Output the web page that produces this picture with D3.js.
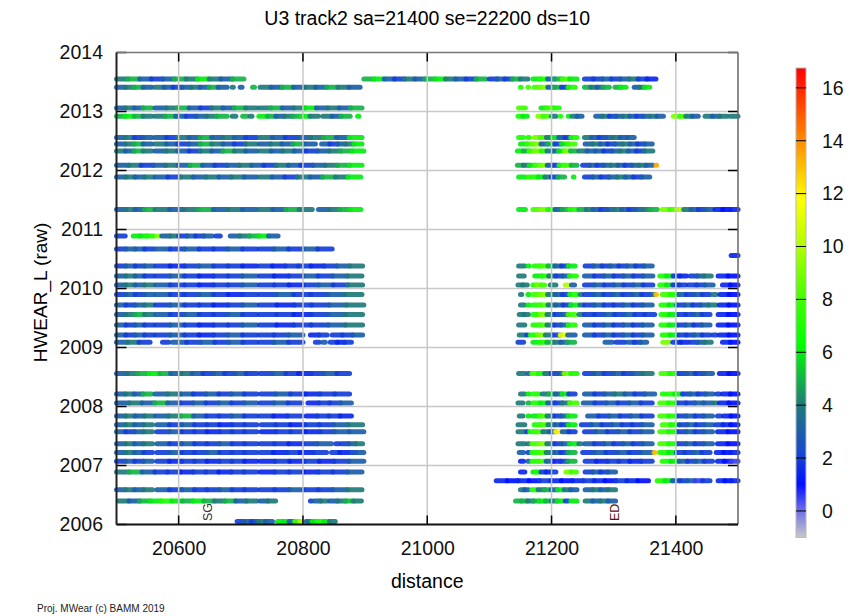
<!DOCTYPE html>
<html>
<head>
<meta charset="utf-8">
<script src="https://cdn.jsdelivr.net/npm/d3@7"></script>
<style>
  body { margin: 0; background: #fff; }
  svg { font-family: "Liberation Sans", Arial, sans-serif; }
</style>
</head>
<body>
<div id="chart"></div>
<script>
// chart values
var title = "U3 track2 sa=21400 se=22200 ds=10"
var xTicks = [20600, 20800, 21000, 21200, 21400]
var yTicks = [2006, 2007, 2008, 2009, 2010, 2011, 2012, 2013, 2014]
var colorTicks = [0, 2, 4, 6, 8, 10, 12, 14, 16]
var markers = [{ label: "SG", d: 20646 }, { label: "ED", d: 21301 }]

// colour map: value stops and colours
var cStops = [-1, 0, 1, 2.2, 4, 6.3, 8, 10, 11.8, 14, 16.75]
var cColors = ["#c8c8c8", "#7070e8", "#0010ff", "#1848d0", "#1f7a7a", "#00ff00", "#40ff00", "#b0ff00", "#ffff00", "#ff8c00", "#ff0000"]

// rows of measurements: [level, [[from, to, [values along the run]], ...]]
var rows = [
    [2013.55, [[20500, 20705, [4, 5, 3, 2, 3, 5, 4, 6, 4, 3, 5]], [20898, 21095, [5, 6, 3, 2, 4, 3, 5, 6, 4, 3, 2, 5]], [21100, 21162, [2, 3, 2, 5, 4]], [21170, 21241, [6, 7, 3, 5, 8, 6]], [21253, 21368, [2, 2, 3, 2, 3, 4, 2, 1.5]]]],
    [2013.41, [[20500, 20557, [3, 4, 5, 3]], [20562, 20678, [4, 3, 2, 3, 4, 3, 5, 3]], [20686, 20688, [4]], [20699, 20702, [3]], [20719, 20722, [5]], [20731, 20892, [4, 3, 5, 3, 4, 3, 5, 4, 3]], [21150, 21151, [7]], [21162, 21163, [8]], [21172, 21238, [8, 9, 3, 5, 2, 7]], [21253, 21293, [5, 4, 3, 5]], [21302, 21320, [5, 6]], [21333, 21358, [3, 4, 6]]]],
    [2013.06, [[20500, 20557, [3, 4, 3, 5]], [20562, 20726, [3, 4, 5, 3, 2, 4, 3, 5, 4]], [20730, 20895, [4, 5, 3, 4, 6, 3, 4, 3, 5]], [21147, 21158, [8]], [21183, 21212, [6, 8, 7]]]],
    [2012.92, [[20500, 20557, [5, 6, 5, 4]], [20562, 20678, [4, 5, 3, 2, 3, 4, 5]], [20686, 20692, [4]], [20703, 20710, [5]], [20715, 20718, [4]], [20729, 20825, [6, 5, 3, 4, 5, 6, 4]], [20832, 20876, [4, 3, 5]], [20888, 20890, [6]], [21146, 21161, [7, 6]], [21178, 21194, [9, 8]], [21200, 21207, [4]], [21214, 21215, [7]], [21227, 21228, [6]], [21233, 21249, [4, 3]], [21271, 21380, [3, 4, 2, 3, 4, 3, 2, 3, 4, 3]], [21396, 21436, [9, 8, 4, 3]], [21447, 21482, [4, 3, 4]], [21487, 21500, [4]]]],
    [2012.56, [[20500, 20557, [3, 4, 2, 3]], [20562, 20726, [3, 2, 4, 3, 5, 3, 4, 3, 2]], [20730, 20895, [4, 3, 2, 3, 4, 5, 3, 6]], [21147, 21155, [7]], [21162, 21164, [7]], [21172, 21241, [9, 8, 4, 6, 3, 2, 7]], [21253, 21333, [4, 3, 2, 3, 4, 3, 3]]]],
    [2012.45, [[20500, 20557, [3, 4, 5, 3]], [20562, 20726, [4, 3, 2, 3, 5, 4, 3, 2, 4]], [20730, 20820, [3, 4, 3, 5, 3]], [20830, 20895, [3, 2, 3, 4, 6]], [21150, 21238, [6, 8, 9, 3, 5, 2, 6, 8]], [21254, 21362, [3, 4, 3, 2, 3, 4, 3, 2, 3]]]],
    [2012.33, [[20500, 20557, [4, 3, 5, 4]], [20562, 20726, [3, 4, 3, 2, 4, 3, 5, 4, 3]], [20730, 20898, [4, 3, 4, 3, 2, 3, 4, 5, 6]], [21145, 21240, [6, 5, 8, 9, 7, 4, 3, 6, 9, 5]], [21244, 21363, [4, 3, 3, 2, 3, 4, 3, 2, 4]]]],
    [2012.09, [[20500, 20895, [3, 4, 2, 3, 4, 3, 5, 3, 2, 3, 4, 3, 2, 4, 3, 2, 3, 4, 5, 6]], [21145, 21241, [5, 4, 6, 8, 9, 3, 2, 7, 8, 5]], [21250, 21363, [2, 3, 2, 3, 4, 3, 2, 3, 4, 3]], [21368, 21369, [13.5]]]],
    [2011.89, [[20500, 20560, [3, 4, 3, 4]], [20562, 20726, [3, 2, 4, 3, 4, 3, 4, 3]], [20730, 20893, [4, 3, 2, 4, 3, 5, 4, 6]], [21147, 21157, [6]], [21162, 21164, [7]], [21168, 21221, [7, 6, 4, 2, 5]], [21235, 21236, [6]], [21253, 21358, [2, 3, 2, 3, 4, 3, 2, 3]]]],
    [2011.34, [[20500, 20560, [3, 4, 3, 5]], [20562, 20726, [4, 3, 4, 5, 3, 4, 3]], [20730, 20815, [4, 3, 5, 4]], [20825, 20893, [3, 4, 5, 6]], [21147, 21158, [6]], [21170, 21241, [8, 9, 7, 3, 5, 7]], [21244, 21370, [5, 4, 3, 2, 3, 4, 3, 2, 3, 4, 5]], [21378, 21459, [9, 8, 10, 4, 3, 2, 3]], [21463, 21500, [1.5, 1, 1.5]]]],
    [2010.89, [[20500, 20514, [2]], [20527, 20560, [6, 6, 7]], [20565, 20569, [9]], [20573, 20654, [3, 4, 2, 3, 2, 3]], [20660, 20667, [2]], [20683, 20760, [3, 4, 5, 6, 3]]]],
    [2010.67, [[20500, 20560, [2, 3, 3, 2]], [20563, 20726, [3, 2, 3, 2, 2, 3, 2]], [20730, 20847, [2, 3, 2, 3, 2]]]],
    [2010.56, [[21489, 21500, [1.5]]]],
    [2010.38, [[20500, 20560, [2, 3, 2, 3]], [20563, 20726, [2, 1.5, 2, 3, 2, 2, 1.5]], [20730, 20896, [2, 1.5, 2, 2, 1.5, 2, 3, 4]], [21147, 21157, [4]], [21162, 21164, [6]], [21172, 21238, [7, 8, 5, 3, 2, 6]], [21254, 21362, [2, 3, 2, 3, 2, 3, 2, 3]]]],
    [2010.21, [[20500, 20560, [3, 4, 3, 2]], [20563, 20726, [2, 3, 2, 1.5, 2, 2, 3]], [20730, 20895, [2, 1.5, 2, 3, 2, 3, 4]], [21147, 21156, [4]], [21173, 21240, [6, 7, 4, 2, 3, 7]], [21253, 21363, [3, 2, 3, 2, 3, 2, 3]], [21374, 21417, [7, 6, 2, 1.5]], [21423, 21457, [2, 3, 4]], [21468, 21500, [1.5, 1]]]],
    [2010.06, [[20500, 20560, [3, 4, 3, 4]], [20563, 20726, [3, 2, 2, 1.5, 2, 2, 3]], [20730, 20896, [2, 2, 1.5, 2, 3, 2, 4]], [21146, 21161, [4, 4]], [21170, 21189, [7, 9, 8]], [21198, 21207, [4]], [21222, 21226, [10]], [21232, 21237, [3]], [21253, 21363, [2, 3, 2, 3, 2, 3, 2]], [21374, 21416, [7, 6, 2, 2]], [21420, 21460, [2, 2, 3]], [21475, 21500, [1.5, 1]]]],
    [2009.90, [[20500, 20560, [2, 3, 2, 3]], [20563, 20726, [3, 2, 2, 3, 2, 1.5, 2]], [20730, 20895, [2, 3, 2, 2, 3, 4]], [21150, 21152, [4]], [21162, 21164, [6]], [21170, 21241, [8, 9, 4, 3, 2, 7]], [21246, 21249, [4]], [21253, 21360, [2, 3, 2, 3, 2, 3, 2]], [21364, 21366, [4]], [21368, 21369, [13]], [21378, 21455, [8, 7, 3, 2, 3, 2]], [21460, 21465, [4]], [21471, 21500, [1.5, 1]]]],
    [2009.72, [[20500, 20560, [3, 2, 3, 4]], [20563, 20726, [2, 3, 2, 2, 1.5, 2, 3]], [20730, 20898, [2, 1.5, 2, 2, 3, 4]], [21150, 21157, [4]], [21162, 21164, [6]], [21170, 21243, [7, 8, 4, 3, 2, 6]], [21246, 21251, [4]], [21253, 21362, [2, 3, 2, 2, 3, 2, 3]], [21376, 21465, [7, 6, 2, 3, 2, 3, 4]], [21470, 21500, [1.5, 1]]]],
    [2009.56, [[20500, 20560, [3, 4, 5, 4]], [20563, 20726, [3, 2, 3, 2, 2, 3, 2]], [20730, 20896, [2, 2, 1.5, 2, 3, 4]], [21148, 21163, [4, 4]], [21170, 21238, [7, 9, 4, 2, 3, 8]], [21244, 21250, [4]], [21253, 21366, [2, 2, 3, 2, 3, 2, 2]], [21376, 21455, [7, 6, 2, 2, 3, 2]], [21468, 21500, [1.5, 1]]]],
    [2009.38, [[20500, 20560, [3, 2, 3, 2]], [20563, 20726, [2, 3, 2, 1.5, 2, 2, 3]], [20730, 20896, [2, 1.5, 2, 2, 3, 4]], [21147, 21157, [4]], [21170, 21238, [7, 8, 4, 2, 3, 7]], [21253, 21362, [3, 2, 3, 2, 3, 2, 3]], [21376, 21455, [7, 6, 2, 3, 2, 3]], [21468, 21500, [1.5, 1]]]],
    [2009.21, [[20500, 20560, [3, 2, 3, 2]], [20563, 20726, [2, 3, 2, 1.5, 2, 3, 2]], [20730, 20800, [2, 2, 3]], [20812, 20839, [1.5, 2]], [20847, 20896, [2, 2, 3]], [21148, 21157, [4]], [21160, 21162, [2]], [21166, 21238, [7, 9, 4, 2, 11, 3]], [21253, 21362, [3, 2, 3, 2, 3, 2, 3]], [21378, 21455, [7, 6, 2, 2, 3, 2]], [21460, 21465, [2]], [21470, 21500, [1.5, 1]]]],
    [2009.09, [[20500, 20554, [3, 4, 2]], [20574, 20584, [2]], [20590, 20726, [3, 2, 3, 2, 3, 2]], [20730, 20800, [2, 3, 2]], [20820, 20826, [2]], [20832, 20836, [3]], [20844, 20878, [2, 1.5, 2]], [21146, 21155, [2]], [21170, 21237, [6, 7, 5, 4, 3, 5]], [21286, 21298, [3]], [21304, 21318, [2]], [21323, 21353, [3, 2, 3]], [21379, 21389, [9]], [21395, 21420, [2, 1.5]], [21424, 21457, [2, 3, 4]], [21475, 21500, [1.5, 1]]]],
    [2008.56, [[20500, 20726, [3, 4, 5, 6, 5, 3, 4, 3, 2, 3, 2, 3, 2]], [20731, 20875, [2, 3, 2, 1.5, 2, 3, 2]], [21147, 21157, [4]], [21162, 21164, [3]], [21168, 21241, [8, 7, 4, 2, 3, 9, 7]], [21253, 21362, [2, 3, 2, 3, 2, 3, 4]], [21376, 21459, [8, 7, 2, 3, 2, 3]], [21470, 21500, [1.5, 1]]]],
    [2008.21, [[20500, 20557, [3, 4, 3, 5]], [20562, 20726, [3, 4, 3, 2, 3, 2, 3, 2]], [20732, 20875, [2, 3, 2, 1.5, 2, 2]], [21150, 21157, [4]], [21162, 21164, [6]], [21170, 21180, [7]], [21185, 21238, [4, 5, 3, 6, 2]], [21253, 21366, [3, 2, 3, 4, 3, 2, 3]], [21378, 21382, [7]], [21386, 21460, [7, 6, 2, 3, 2, 3]], [21466, 21470, [2]], [21475, 21500, [1.5, 1]]]],
    [2008.06, [[20500, 20726, [3, 4, 3, 5, 3, 2, 3, 2, 3, 2, 3]], [20731, 20798, [2, 3, 2]], [20808, 20878, [1.5, 2, 2, 3]], [21146, 21154, [4]], [21162, 21164, [5]], [21170, 21241, [7, 6, 3, 2, 4, 8]], [21251, 21362, [3, 2, 3, 2, 3, 2]], [21374, 21459, [8, 7, 2, 2, 3, 3]], [21462, 21466, [4]], [21470, 21500, [1.5, 1]]]],
    [2007.84, [[20500, 20560, [3, 4, 3, 4]], [20563, 20726, [3, 4, 5, 3, 2, 2, 3, 2]], [20730, 20798, [2, 1.5, 2]], [20805, 20878, [1.5, 2, 2, 1.5]], [21148, 21154, [4]], [21162, 21164, [6]], [21170, 21238, [6, 8, 4, 2, 3, 6]], [21258, 21362, [3, 2, 3, 2, 3, 2]], [21374, 21459, [8, 7, 2, 3, 2, 3]], [21467, 21472, [2]], [21477, 21500, [1.5, 1]]]],
    [2007.69, [[20500, 20558, [3, 4, 3, 4]], [20565, 20726, [3, 2, 3, 2, 2, 1.5, 2, 2]], [20733, 20896, [2, 2, 1.5, 2, 2, 3, 4]], [21146, 21157, [4]], [21172, 21238, [7, 8, 4, 3, 2, 6]], [21248, 21362, [2, 3, 2, 3, 2, 2, 3]], [21378, 21459, [8, 7, 2, 3, 2, 3]], [21464, 21500, [2, 1.5, 1]]]],
    [2007.57, [[20500, 20558, [3, 2, 3, 4]], [20565, 20726, [2, 3, 2, 2, 1.5, 2, 2, 2]], [20733, 20898, [1.5, 2, 2, 1.5, 2, 3, 3]], [21146, 21157, [4]], [21160, 21162, [2]], [21165, 21238, [7, 8, 4, 3, 12, 3, 2]], [21253, 21362, [2, 3, 2, 3, 2, 3]], [21374, 21459, [8, 7, 2, 3, 2, 3]], [21467, 21500, [1.5, 1]]]],
    [2007.37, [[20500, 20558, [3, 4, 3, 4]], [20565, 20726, [3, 2, 3, 2, 2, 3, 2, 2]], [20731, 20846, [2, 2, 1.5, 2, 3]], [20853, 20858, [2]], [20862, 20896, [2, 3, 4]], [21146, 21157, [4]], [21162, 21164, [4]], [21168, 21241, [8, 9, 4, 2, 3, 6]], [21244, 21247, [4]], [21253, 21362, [3, 2, 3, 2, 3, 2, 3]], [21374, 21459, [8, 7, 2, 3, 2, 3]], [21467, 21500, [1.5, 1]]]],
    [2007.22, [[20500, 20558, [3, 4, 3, 2]], [20565, 20726, [2, 3, 2, 2, 3, 2, 2, 2]], [20731, 20838, [2, 1.5, 2, 1.5, 2]], [20846, 20898, [2, 1.5, 2, 3]], [21148, 21155, [3]], [21162, 21164, [2]], [21168, 21238, [7, 8, 4, 3, 2, 5]], [21250, 21362, [2, 3, 2, 3, 2, 3]], [21365, 21367, [13]], [21374, 21455, [7, 6, 2, 2, 3, 2]], [21465, 21500, [1.5, 1, 1.5]]]],
    [2007.07, [[20500, 20558, [2, 3, 2, 3]], [20565, 20726, [2, 1.5, 2, 2, 1.5, 2, 2, 1.5]], [20731, 20898, [1.5, 2, 1.5, 2, 1.5, 2, 3]], [21150, 21155, [1.5]], [21162, 21164, [3]], [21168, 21238, [7, 8, 3, 0.8, 2, 5]], [21254, 21362, [2, 1.5, 2, 2, 1.5, 2]], [21378, 21459, [7, 6, 3, 2, 3, 2]], [21467, 21500, [1.5, 1, 0.5]]]],
    [2006.89, [[20500, 20726, [4, 5, 3, 2, 2, 1.5, 2, 2, 1.5, 2, 2]], [20731, 20895, [1.5, 2, 2, 1.5, 2, 2, 3]], [21150, 21157, [1.5]], [21170, 21181, [6, 7]], [21183, 21207, [2, 1.5, 2]], [21223, 21240, [9, 8]], [21254, 21303, [2, 3, 2, 3]]]],
    [2006.74, [[21111, 21356, [1.5, 1, 1.5, 1, 2, 1.5, 1, 1.5, 2, 1.5, 1, 2, 1.5, 1]], [21370, 21455, [7, 6, 3, 2, 3, 0.5, 2]], [21468, 21500, [1.5, 1, 1.5]]]],
    [2006.59, [[20500, 20558, [3, 4, 3, 4]], [20565, 20726, [3, 2, 3, 2, 2, 3, 2, 2]], [20731, 20895, [2, 2, 3, 2, 2, 3, 4]], [21150, 21163, [4, 3]], [21168, 21241, [7, 4, 5, 3, 6, 4, 3]], [21254, 21303, [3, 4, 3, 4]]]],
    [2006.40, [[20503, 20726, [4, 3, 5, 6, 7, 6, 5, 6, 5, 4, 5, 3, 4]], [20731, 20756, [3, 4]], [20812, 20814, [2]], [20818, 20839, [3, 4]], [20843, 20894, [3, 4, 5, 4]], [21142, 21219, [5, 5, 4, 5, 6, 5, 4, 6]], [21222, 21227, [2]], [21231, 21241, [6]], [21254, 21303, [4, 3, 4, 3]]]],
    [2006.05, [[20694, 20751, [2, 3, 2, 4, 3]], [20759, 20852, [6, 6, 3, 8, 10, 3, 6, 7, 6, 4]]]]
]

// layout
var W = 856, H = 616
var plot = { left: 116.5, right: 738, top: 52.5, bottom: 524.5 }

var svg = d3.select("#chart").append("svg")
    .attr("width", W)
    .attr("height", H)

var x = d3.scaleLinear().domain([20500, 21500]).range([plot.left, plot.right])
var y = d3.scaleLinear().domain([2006, 2014]).range([plot.bottom, plot.top])
var color = d3.scaleLinear().domain(cStops).range(cColors).clamp(true)

// title
svg.append("text")
    .attr("x", (plot.left + plot.right) / 2)
    .attr("y", 25)
    .attr("text-anchor", "middle")
    .style("font-size", "19.5px")
    .text(title)

// marks: each run is split in equal pieces, one colour value per piece
var pieces = []
rows.forEach(function(r) {
    r[1].forEach(function(s) {
        var n = s[2].length
        s[2].forEach(function(v, i) {
            pieces.push({
                lev: r[0],
                a: s[0] + (s[1] - s[0]) * i / n,
                b: s[0] + (s[1] - s[0]) * (i + 1) / n,
                v: v
            })
        })
    })
})

svg.append("g").selectAll("line")
    .data(pieces)
    .enter()
    .append("line")
    .attr("x1", function(d) { return x(d.a) })
    .attr("x2", function(d) { return x(d.b) })
    .attr("y1", function(d) { return y(d.lev) })
    .attr("y2", function(d) { return y(d.lev) })
    .attr("stroke", function(d) { return color(d.v) })
    .attr("stroke-width", 5)
    .attr("stroke-linecap", "round")
    .attr("stroke-opacity", 0.92)

// grid on top of the points
var grid = svg.append("g").attr("stroke", "#c8c8c8").attr("stroke-width", 1.5)
grid.selectAll(".gx").data(xTicks).enter().append("line")
    .attr("x1", x).attr("x2", x)
    .attr("y1", plot.top).attr("y2", plot.bottom)
grid.selectAll(".gy").data(yTicks.slice(1, -1)).enter().append("line")
    .attr("y1", y).attr("y2", y)
    .attr("x1", plot.left).attr("x2", plot.right)

// inner tick marks
var tk = svg.append("g").attr("stroke", "#000").attr("stroke-width", 1.5)
xTicks.forEach(function(t) {
    tk.append("line").attr("x1", x(t)).attr("x2", x(t)).attr("y1", plot.bottom).attr("y2", plot.bottom - 9)
    tk.append("line").attr("x1", x(t)).attr("x2", x(t)).attr("y1", plot.top).attr("y2", plot.top + 9)
})
yTicks.forEach(function(t) {
    tk.append("line").attr("y1", y(t)).attr("y2", y(t)).attr("x1", plot.left).attr("x2", plot.left + 10)
    tk.append("line").attr("y1", y(t)).attr("y2", y(t)).attr("x1", plot.right).attr("x2", plot.right - 10)
})

// frame
svg.append("line").attr("x1", plot.left).attr("x2", plot.right).attr("y1", plot.top).attr("y2", plot.top)
    .attr("stroke", "#777").attr("stroke-width", 1.5)
svg.append("line").attr("x1", plot.right).attr("x2", plot.right).attr("y1", plot.top).attr("y2", plot.bottom)
    .attr("stroke", "#666").attr("stroke-width", 1.5)
svg.append("line").attr("x1", plot.left).attr("x2", plot.left).attr("y1", plot.top).attr("y2", plot.bottom)
    .attr("stroke", "#222").attr("stroke-width", 2)
svg.append("line").attr("x1", plot.left).attr("x2", plot.right).attr("y1", plot.bottom).attr("y2", plot.bottom)
    .attr("stroke", "#111").attr("stroke-width", 2)

// axis labels via d3 axes
var xAxis = svg.append("g")
    .attr("transform", "translate(0," + plot.bottom + ")")
    .call(d3.axisBottom(x).tickValues(xTicks).tickSize(0).tickPadding(17).tickFormat(d3.format("d")))
var yAxis = svg.append("g")
    .attr("transform", "translate(" + plot.left + ",0)")
    .call(d3.axisLeft(y).tickValues(yTicks).tickSize(0).tickPadding(13.5).tickFormat(d3.format("d")))
svg.selectAll(".domain").remove()
svg.selectAll(".tick text")
    .attr("fill", "#111")
    .style("font-size", "19.5px")
    .style("font-family", "'Liberation Sans', Arial, sans-serif")

svg.append("text")
    .attr("x", (plot.left + plot.right) / 2)
    .attr("y", 588)
    .attr("text-anchor", "middle")
    .style("font-size", "19.5px")
    .text("distance")

svg.append("text")
    .attr("transform", "translate(47," + ((plot.top + plot.bottom) / 2 + 4) + ") rotate(-90)")
    .attr("text-anchor", "middle")
    .style("font-size", "19px")
    .text("HWEAR_L (raw)")

// markers
svg.selectAll(".mk").data(markers).enter().append("text")
    .attr("transform", function(d) { return "translate(" + (x(d.d) + 4.5) + ",521) rotate(-90)" })
    .style("font-size", "12.5px")
    .attr("fill", function(d) { return d.label == "ED" ? "#5a1010" : "#333" })
    .text(function(d) { return d.label })

// colour bar
var cb = { x: 796, w: 10 }
var cy = d3.scaleLinear().domain([-1, 16.75]).range([537.4, 68])
var grad = svg.append("defs").append("linearGradient")
    .attr("id", "cbar")
    .attr("x1", 0).attr("y1", 1).attr("x2", 0).attr("y2", 0)
grad.selectAll("stop").data(cStops).enter().append("stop")
    .attr("offset", function(d) { return (d - cStops[0]) / (cStops[cStops.length - 1] - cStops[0]) })
    .attr("stop-color", function(d, i) { return cColors[i] })
svg.append("rect")
    .attr("x", cb.x).attr("y", cy(16.75))
    .attr("width", cb.w).attr("height", cy(-1) - cy(16.75))
    .attr("fill", "url(#cbar)")
    .attr("stroke", "#b8b8b8").attr("stroke-width", 1)
svg.append("g").selectAll("line").data(colorTicks).enter().append("line")
    .attr("x1", cb.x).attr("x2", cb.x + cb.w)
    .attr("y1", cy).attr("y2", cy)
    .attr("stroke", "#000").attr("stroke-width", 1)
svg.append("g").selectAll("text").data(colorTicks).enter().append("text")
    .attr("x", 822)
    .attr("y", cy)
    .attr("dy", "0.35em")
    .style("font-size", "19.5px")
    .attr("fill", "#111")
    .text(function(d) { return d })

// footer
svg.append("text")
    .attr("x", 37)
    .attr("y", 612)
    .style("font-size", "10px")
    .attr("fill", "#222")
    .text("Proj. MWear (c) BAMM 2019")
</script>
</body>
</html>
